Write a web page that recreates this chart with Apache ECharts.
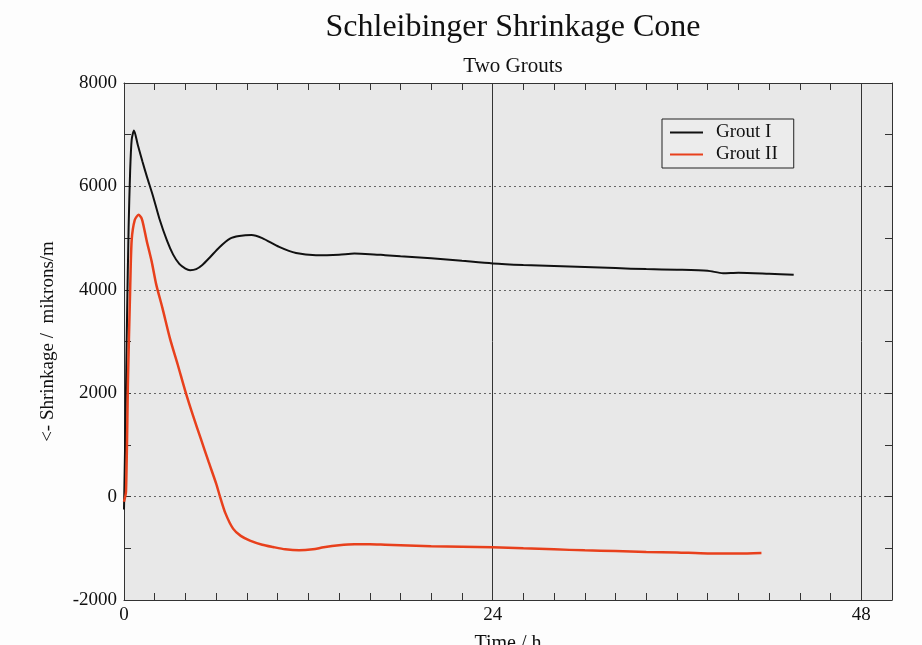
<!DOCTYPE html>
<html>
<head>
<meta charset="utf-8">
<script src="https://cdn.jsdelivr.net/npm/echarts@6/dist/echarts.min.js"></script>
<style>
html,body{margin:0;padding:0;background:#fdfdfd;}
#chart{width:922px;height:645px;}
</style>
</head>
<body>
<div id="chart"></div>
<script>
var titleText = 'Schleibinger Shrinkage Cone';
var subtitleText = 'Two Grouts';
var xName = 'Time / h';
var yName = '<- Shrinkage /  mikrons/m';
var seriesNames = ['Grout I', 'Grout II'];

var timeI = [0, 0.1, 0.2, 0.3, 0.4, 0.5, 0.65, 0.9, 1.2, 1.5, 1.9, 2.3, 2.8, 3.2, 3.6, 4.0, 4.3, 4.7, 5.1, 5.6, 6.2, 6.9, 7.5, 8.3, 9.0, 10.1, 11.2, 12.5, 14, 15, 16, 17, 18, 20, 22, 24, 26, 28, 30, 32, 34, 36, 38, 39, 40, 42, 43.6];
var groutI = [-250, 1500, 3500, 5200, 6300, 6900, 7080, 6800, 6480, 6180, 5800, 5380, 4950, 4680, 4500, 4410, 4380, 4400, 4480, 4630, 4820, 4990, 5040, 5060, 5000, 4830, 4710, 4670, 4680, 4700, 4690, 4670, 4650, 4610, 4560, 4510, 4480, 4460, 4440, 4420, 4400, 4390, 4370, 4320, 4330, 4310, 4290];

var timeII = [0, 0.13, 0.26, 0.4, 0.5, 0.7, 0.95, 1.15, 1.3, 1.47, 1.8, 2.1, 2.5, 3.0, 3.5, 4.0, 4.5, 5.0, 5.5, 6.0, 6.25, 6.6, 7.1, 7.6, 8.2, 9.0, 9.7, 10.5, 11.4, 12.3, 13, 14, 15, 16, 17, 18, 20, 22, 24, 26, 28, 30, 32, 34, 36, 38, 40, 41.5];
var groutII = [-100, 100, 2260, 4000, 4960, 5350, 5450, 5380, 5200, 4960, 4550, 4100, 3650, 3050, 2550, 2030, 1560, 1120, 680, 250, 0, -320, -620, -760, -850, -930, -975, -1020, -1040, -1020, -980, -940, -920, -920, -930, -940, -960, -970, -980, -1000, -1020, -1040, -1050, -1070, -1080, -1100, -1100, -1090];

function pairs(xs, ys){ return xs.map(function(x,i){ return [x, ys[i]]; }); }

var serif = 'Liberation Serif';
var chart = echarts.init(document.getElementById('chart'));
var tickStyle = {show:true, inside:true, length:7, lineStyle:{color:'#333', width:1}};
function plain(v){ return String(v); }

chart.setOption({
  backgroundColor: '#fdfdfd',
  animation: false,
  title: [
    {text: titleText, left: 508, top: 7, textAlign: 'center',
     textStyle:{fontFamily:serif, fontSize:32, fontWeight:'normal', color:'#111'}},
    {text: subtitleText, left: 508, top: 51, textAlign: 'center',
     textStyle:{fontFamily:serif, fontSize:21, fontWeight:'normal', color:'#111'}}
  ],
  legend: {
    left: 662, top: 119, orient: 'vertical',
    itemGap: 3, padding: [4, 16, 4, 8],
    itemWidth: 33, itemHeight: 2, icon: 'rect',
    backgroundColor: '#ececec', borderColor: '#222', borderWidth: 1,
    textStyle: {fontFamily: serif, fontSize: 19, color: '#111', padding:[0,0,0,8]},
    data: seriesNames
  },
  grid: {left: 124, right: 30, top: 83, bottom: 45, show: true, backgroundColor: '#e8e8e8', borderWidth: 0,
         outerBoundsMode: 'none', containLabel: false},
  xAxis: [
    {type:'value', min:0, max:50, interval:24, position:'bottom',
     name: xName, nameLocation:'middle', nameGap:34,
     nameTextStyle:{fontFamily:serif, fontSize:20, color:'#111'},
     axisLine:{show:true, onZero:false, lineStyle:{color:'#333', width:1}},
     axisTick: tickStyle,
     minorTick:{show:true, splitNumber:12, length:7, lineStyle:{color:'#333', width:1}},
     splitLine:{show:true, lineStyle:{color:'#333', width:1, type:'solid'}},
     axisLabel:{fontFamily:serif, fontSize:19, color:'#111', margin:6, showMaxLabel:false, formatter: plain}},
    {type:'value', min:0, max:50, interval:24, position:'top',
     axisLine:{show:true, onZero:false, lineStyle:{color:'#333', width:1}},
     axisTick: tickStyle,
     minorTick:{show:true, splitNumber:12, length:7, lineStyle:{color:'#333', width:1}},
     splitLine:{show:false}, axisLabel:{show:false}}
  ],
  yAxis: [
    {type:'value', min:-2000, max:8000, interval:2000, position:'left',
     name: yName, nameLocation:'middle', nameGap:66,
     nameTextStyle:{fontFamily:serif, fontSize:19, color:'#111'},
     axisLine:{show:true, onZero:false, lineStyle:{color:'#333', width:1}},
     axisTick: tickStyle,
     minorTick:{show:true, splitNumber:2, length:7, lineStyle:{color:'#333', width:1}},
     splitLine:{show:true, lineStyle:{color:'#666', width:1, type:[2,3]}},
     axisLabel:{fontFamily:serif, fontSize:19, color:'#111', margin:7, formatter: plain}},
    {type:'value', min:-2000, max:8000, interval:2000, position:'right',
     axisLine:{show:true, onZero:false, lineStyle:{color:'#333', width:1}},
     axisTick: tickStyle,
     minorTick:{show:true, splitNumber:2, length:7, lineStyle:{color:'#333', width:1}},
     splitLine:{show:false}, axisLabel:{show:false}}
  ],
  series: [
    {name: seriesNames[0], type:'line', data: pairs(timeI, groutI), showSymbol:false, smooth:0.25,
     lineStyle:{color:'#111', width:2}, itemStyle:{color:'#111'}, z:3},
    {name: seriesNames[1], type:'line', data: pairs(timeII, groutII), showSymbol:false, smooth:0.25,
     lineStyle:{color:'#e8401c', width:2.5}, itemStyle:{color:'#e8401c'}, z:3}
  ]
});
</script>
</body>
</html>
